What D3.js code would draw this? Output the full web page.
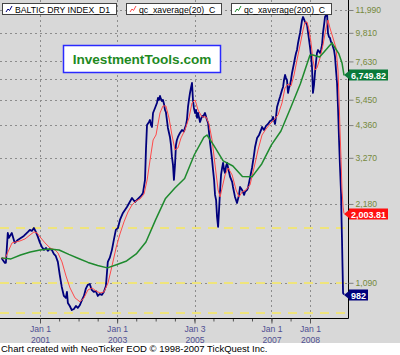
<!DOCTYPE html>
<html>
<head>
<meta charset="utf-8">
<script src="https://cdn.jsdelivr.net/npm/d3@7"></script>
<style>
body { margin: 0; background: #fff; }
svg text { font-family: "Liberation Sans", Arial, sans-serif; }
</style>
</head>
<body>
<svg width="400" height="355"></svg>
<script>
var bdiSeries = [
["2000-01-03",1356],["2000-01-15",1333],["2000-02-04",1298],["2000-02-13",1300],["2000-03-02",1689],
["2000-03-11",1617],["2000-04-09",1689],["2000-05-07",1548],["2000-06-05",1589],["2000-07-03",1617],
["2000-08-01",1646],["2000-09-09",1705],["2000-09-27",1735],["2000-10-16",1720],["2000-11-04",1765],
["2000-11-23",1705],["2000-12-12",1632],["2001-01-01",1548],["2001-01-19",1494],["2001-02-08",1456],
["2001-02-27",1481],["2001-03-16",1443],["2001-04-04",1468],["2001-04-23",1456],["2001-05-12",1405],
["2001-05-30",1380],["2001-06-19",1310],["2001-07-07",1168],["2001-07-26",1051],["2001-08-15",971],
["2001-09-03",954],["2001-09-13",1006],["2001-09-22",913],["2001-10-10",889],["2001-10-29",858],
["2001-11-18",866],["2001-12-07",889],["2001-12-25",874],["2002-01-14",897],["2002-02-03",938],
["2002-02-21",971],["2002-03-10",1033],["2002-03-29",1070],["2002-04-17",1079],["2002-05-06",1024],
["2002-05-25",1006],["2002-06-13",1015],["2002-07-02",971],["2002-07-21",989],["2002-08-09",980],
["2002-08-28",1006],["2002-09-17",1060],["2002-10-05",1310],["2002-10-24",1360],["2002-11-13",1456],
["2002-12-01",1589],["2002-12-20",1735],["2003-01-09",1765],["2003-01-28",1894],["2003-02-25",2014],
["2003-04-04",2123],["2003-05-22",2298],["2003-06-19",2218],["2003-07-17",2278],["2003-08-15",2339],
["2003-09-03",2401],["2003-09-22",2692],["2003-10-01",3504],["2003-10-11",4364],["2003-10-30",4481],
["2003-11-08",4561],["2003-11-18",4364],["2003-11-27",4289],["2003-12-07",4850],["2003-12-26",5068],
["2004-01-13",5296],["2004-01-23",5533],["2004-02-01",5436],["2004-02-11",5632],["2004-02-20",5485],
["2004-03-01",5390],["2004-03-10",5436],["2004-03-20",5250],["2004-03-29",4980],["2004-04-07",4890],
["2004-04-26",4251],["2004-05-15",3928],["2004-05-25",3661],["2004-06-03",3295],["2004-06-13",3072],
["2004-06-22",2692],["2004-07-02",3072],["2004-07-11",3661],["2004-07-20",3826],["2004-07-30",3928],
["2004-08-18",4068],["2004-09-06",4177],["2004-09-25",4120],["2004-10-04",4251],["2004-10-14",4364],
["2004-10-23",4561],["2004-11-02",5113],["2004-11-11",5436],["2004-11-21",5782],["2004-11-30",6041],
["2004-12-10",6313],["2004-12-19",5436],["2004-12-28",5068],["2005-01-08",4850],["2005-01-17",4980],
["2005-01-27",4642],["2005-02-05",4850],["2005-02-24",4481],["2005-03-15",4724],["2005-03-24",4686],
["2005-04-12",4850],["2005-05-01",4561],["2005-05-11",4442],["2005-05-30",3727],["2005-06-18",3210],
["2005-06-27",2939],["2005-07-07",2692],["2005-07-16",2360],["2005-07-26",2258],["2005-08-04",1945],
["2005-08-14",1781],["2005-08-23",2070],["2005-09-02",2465],["2005-09-11",2813],["2005-09-21",2991],
["2005-09-30",3126],["2005-10-10",2939],["2005-10-19",2863],["2005-10-29",3044],["2005-11-07",3126],
["2005-11-17",2991],["2005-12-06",2764],["2005-12-25",2645],["2006-01-02",2531],["2006-01-21",2319],
["2006-02-09",2199],["2006-02-28",2360],["2006-03-10",2531],["2006-03-29",2465],["2006-04-17",2360],
["2006-04-26",2422],["2006-05-15",2465],["2006-05-24",2510],["2006-06-12",2740],["2006-07-01",2991],
["2006-07-20",3353],["2006-07-30",3597],["2006-08-18",3893],["2006-09-06",3998],["2006-09-25",4177],
["2006-10-04",4289],["2006-10-23",4177],["2006-11-11",4327],["2006-11-30",4403],["2006-12-19",4521],
["2007-01-06",4561],["2007-01-16",4686],["2007-02-04",4403],["2007-02-13",4686],["2007-02-23",5113],
["2007-03-14",5436],["2007-03-23",5582],["2007-04-11",5936],["2007-04-21",6095],["2007-04-30",6481],
["2007-05-10",6772],["2007-05-19",6590],["2007-05-28",6481],["2007-06-07",5782],["2007-06-16",6041],
["2007-06-26",6203],["2007-07-05",6481],["2007-07-15",6893],["2007-08-03",7526],["2007-08-12",7864],
["2007-08-22",8217],["2007-08-31",8436],["2007-09-10",8972],["2007-09-19",9375],["2007-09-29",9796],
["2007-10-08",10326],["2007-10-18",10982],["2007-10-27",11274],["2007-11-06",11042],["2007-11-15",10791],
["2007-11-25",10700],["2007-12-04",10510],["2007-12-14",9796],["2007-12-23",9212],["2008-01-01",8663],
["2008-01-10",8074],["2008-01-20",7266],["2008-01-29",5782],["2008-02-08",6203],["2008-02-17",6893],
["2008-02-27",7592],["2008-03-07",8217],["2008-03-17",8436],["2008-03-26",8320],["2008-04-05",8217],
["2008-04-14",8436],["2008-04-24",8815],["2008-05-03",9796],["2008-05-13",10510],["2008-05-22",11274],
["2008-06-01",11475],["2008-06-10",11886],["2008-06-15",10510],["2008-06-19",9796],["2008-06-29",9458],
["2008-07-08",9375],["2008-07-18",9051],["2008-07-27",8972],["2008-08-06",8663],["2008-08-15",8436],
["2008-08-25",7934],["2008-09-03",7076],["2008-09-13",6313],["2008-09-22",5113],["2008-10-02",3826],
["2008-10-11",3018],["2008-10-21",2401],["2008-10-25",1945],["2008-10-30",1589],["2008-11-04",1253],
["2008-11-09",997],["2008-11-18",982]
];

var ema20Series = [
["2000-01-03",1357],["2000-02-04",1345],["2000-03-04",1430],["2000-04-11",1548],["2000-05-19",1561],
["2000-06-26",1575],["2000-08-12",1603],["2000-09-29",1660],["2000-11-05",1705],["2000-12-04",1690],
["2001-01-01",1632],["2001-02-17",1548],["2001-04-06",1481],["2001-05-23",1455],["2001-06-20",1417],
["2001-07-28",1310],["2001-09-04",1158],["2001-10-12",1042],["2001-11-28",955],["2002-01-15",922],
["2002-02-21",955],["2002-03-31",1024],["2002-05-08",1042],["2002-06-15",1015],["2002-07-23",997],
["2002-08-30",1006],["2002-10-07",1089],["2002-11-14",1265],["2002-12-22",1481],["2003-01-28",1675],
["2003-03-07",1861],["2003-04-14",2032],["2003-05-22",2161],["2003-06-29",2238],["2003-08-06",2278],
["2003-09-13",2380],["2003-10-12",2692],["2003-11-09",3209],["2003-12-08",3826],["2004-01-04",3997],
["2004-02-11",4850],["2004-03-10",5158],["2004-04-07",5158],["2004-05-06",4642],["2004-06-03",3997],
["2004-07-02",3504],["2004-07-30",3566],["2004-08-28",3894],["2004-10-04",4177],["2004-11-11",4642],
["2004-12-10",5296],["2005-01-08",5437],["2005-02-05",4980],["2005-03-15",4683],["2005-04-22",4683],
["2005-05-20",4403],["2005-06-18",3826],["2005-07-16",3071],["2005-08-14",2465],["2005-09-02",2318],
["2005-09-21",2509],["2005-10-19",2813],["2005-11-17",2991],["2005-12-25",2813],["2006-01-31",2465],
["2006-02-28",2318],["2006-03-29",2422],["2006-05-05",2465],["2006-06-12",2576],["2006-07-20",2991],
["2006-08-27",3504],["2006-10-04",3997],["2006-11-11",4214],["2006-12-19",4403],["2007-01-25",4561],
["2007-03-04",4766],["2007-04-11",5296],["2007-05-09",6041],["2007-06-07",6257],["2007-07-05",6148],
["2007-08-03",6773],["2007-08-31",7727],["2007-09-29",8815],["2007-10-27",10057],["2007-11-15",10790],
["2007-12-04",10790],["2007-12-23",10057],["2008-01-10",9051],["2008-01-29",7727],["2008-02-17",7077],
["2008-03-07",7202],["2008-04-05",7864],["2008-05-03",8815],["2008-06-01",10235],["2008-06-19",10981],
["2008-07-08",10235],["2008-08-06",9374],["2008-09-03",8585],["2008-09-22",7077],["2008-10-02",5437],
["2008-10-11",4177],["2008-10-21",3209],["2008-10-30",2465],["2008-11-09",2123],["2008-11-18",2003.81]
];

var ema200Series = [
["2000-01-03",1357],["2000-04-01",1345],["2000-07-01",1392],["2000-10-01",1430],["2001-01-01",1455],
["2001-04-01",1468],["2001-07-01",1455],["2001-10-01",1399],["2002-01-01",1350],["2002-04-01",1304],
["2002-07-01",1270],["2002-10-01",1243],["2003-01-01",1281],["2003-04-01",1321],["2003-07-01",1405],
["2003-10-01",1561],["2004-01-01",1900],["2004-04-01",2280],["2004-07-01",2509],["2004-10-01",2725],
["2005-01-01",3359],["2005-04-01",3911],["2005-05-01",3997],["2005-07-01",3662],["2005-10-01",3181],
["2006-01-01",3044],["2006-04-01",2776],["2006-07-01",2766],["2006-10-01",3098],["2007-01-01",3662],
["2007-04-01",4140],["2007-07-01",5068],["2007-10-01",6257],["2008-01-01",8073],["2008-01-29",8073],
["2008-04-01",7933],["2008-05-13",8289],["2008-07-01",8738],["2008-07-27",8971],["2008-10-01",8150],
["2008-10-30",7526],["2008-11-18",6749.82]
];

var yGridValues = [1090, 2180, 3270, 4360, 5450, 6540, 7630, 9810, 11990];
var yLabelValues = [1090, 2180, 3270, 4360, 5450, 7630, 9810, 11990];
var xTickDates = ["2001-01-01", "2003-01-01", "2005-01-03", "2007-01-01", "2008-01-01"];
var xTickDays = ["Jan 1", "Jan 1", "Jan 3", "Jan 1", "Jan 1"];
var xTickYears = ["2001", "2003", "2005", "2007", "2008"];
var guideLevels = [1765, 1089, 837];
var legendLabels = ["BALTIC DRY INDEX_D1", "qc_xaverage(20)_C", "qc_xaverage(200)_C"];

var seriesColors = ["#00007c", "#ff4a4a", "#1e8a2e"];
var markerColors = ["#00007c", "#ff1010", "#0b7a3a"];

var width = 400, height = 355;
var plotW = 348, plotH = 318;
var parseDate = d3.timeParse("%Y-%m-%d");

function toPoints(s) {
    return s.map(function(d){ return {date: parseDate(d[0]), value: d[1]}; });
}

var series = [toPoints(bdiSeries), toPoints(ema20Series), toPoints(ema200Series)];

var x = d3.scaleTime()
    .domain([parseDate("2001-01-01"), parseDate("2008-01-01")])
    .range([40, 310]);

var y = d3.scaleLog()
    .domain([800, 13090])
    .range([plotH, 0]);

var svg = d3.select("svg");

svg.append("rect")
    .attr("width", width)
    .attr("height", height)
    .attr("fill", "#d8d8d8");

svg.append("rect")
    .attr("y", 343)
    .attr("width", width)
    .attr("height", height - 343)
    .attr("fill", "#ffffff");

svg.append("clipPath")
    .attr("id", "plotClip")
    .append("rect")
        .attr("width", plotW)
        .attr("height", plotH);

var grid = svg.append("g").attr("class", "grid")
    .attr("shape-rendering", "crispEdges");

grid.selectAll(".hgrid")
    .data(yGridValues)
    .enter()
    .append("line")
        .attr("class", "hgrid")
        .attr("x1", 0)
        .attr("x2", plotW)
        .attr("y1", function(d){ return Math.round(y(d)) + 0.5; })
        .attr("y2", function(d){ return Math.round(y(d)) + 0.5; })
        .attr("stroke", "#8c8c8c")
        .attr("stroke-dasharray", "2,3");

grid.selectAll(".vgrid")
    .data(xTickDates)
    .enter()
    .append("line")
        .attr("class", "vgrid")
        .attr("x1", function(d){ return Math.round(x(parseDate(d))) + 0.5; })
        .attr("x2", function(d){ return Math.round(x(parseDate(d))) + 0.5; })
        .attr("y1", 0)
        .attr("y2", plotH)
        .attr("stroke", "#8c8c8c")
        .attr("stroke-dasharray", "2,3");

grid.selectAll(".guide")
    .data(guideLevels)
    .enter()
    .append("line")
        .attr("class", "guide")
        .attr("x1", 0)
        .attr("x2", plotW)
        .attr("y1", function(d){ return Math.round(y(d)); })
        .attr("y2", function(d){ return Math.round(y(d)); })
        .attr("stroke", "#efe47c")
        .attr("stroke-width", 2)
        .attr("stroke-dasharray", "9,7");

var line = d3.line()
    .x(function(d){ return x(d.date); })
    .y(function(d){ return y(d.value); });

var widths = [1.8, 1, 1.5];

svg.append("g")
    .attr("clip-path", "url(#plotClip)")
    .selectAll("path")
    .data(series)
    .enter()
    .append("path")
        .attr("d", line)
        .attr("fill", "none")
        .attr("stroke", function(d, i){ return seriesColors[i]; })
        .attr("stroke-width", function(d, i){ return widths[i]; })
        .attr("stroke-linejoin", "round");

// right value axis
var yAxis = svg.append("g")
    .attr("transform", "translate(" + (plotW + 0.5) + ",0)")
    .call(d3.axisRight(y).tickValues(yLabelValues).tickSize(5).tickSizeOuter(0).tickFormat(d3.format(",")));

yAxis.select(".domain").attr("stroke", "#000").attr("d", "M0,0V" + (plotH + 0.5));
yAxis.selectAll(".tick line").attr("stroke", "#808080");
yAxis.selectAll(".tick text")
    .attr("x", 7)
    .attr("fill", "#75893c")
    .style("font-size", "8.6px")
    .style("font-family", "'Liberation Sans', Arial, sans-serif");

// bottom time axis
svg.append("g")
    .attr("transform", "translate(0," + (plotH + 0.5) + ")")
    .call(d3.axisBottom(x).ticks(d3.timeMonth.every(6)).tickSize(3).tickSizeOuter(0).tickFormat(""))
    .call(function(g){ g.select(".domain").remove(); })
    .selectAll(".tick line").attr("stroke", "#555");

var xAxis = svg.append("g")
    .attr("transform", "translate(0," + (plotH + 0.5) + ")")
    .call(d3.axisBottom(x).tickValues(xTickDates.map(parseDate)).tickSize(5).tickSizeOuter(0).tickFormat(""));

xAxis.select(".domain").attr("stroke", "#000").attr("d", "M0,0H" + (plotW + 0.5));
xAxis.selectAll(".tick line").attr("stroke", "#555");

xAxis.selectAll(".tick")
    .append("text")
        .attr("y", 13)
        .attr("fill", "#4f4f92")
        .attr("text-anchor", "middle")
        .style("font-size", "8.6px")
        .text(function(d, i){ return xTickDays[i]; });

xAxis.selectAll(".tick")
    .append("text")
        .attr("y", 24)
        .attr("fill", "#4f4f92")
        .attr("text-anchor", "middle")
        .style("font-size", "8.6px")
        .text(function(d, i){ return xTickYears[i]; });

// legend boxes
var legendX = 2;
legendLabels.forEach(function(label, i){
    var g = svg.append("g").attr("transform", "translate(" + legendX + ",3)");
    var box = g.append("rect")
        .attr("x", 0.5)
        .attr("y", 0.5)
        .attr("height", 11)
        .attr("fill", "#fff")
        .attr("stroke", "#444");
    g.append("path")
        .attr("d", "M4,9L6,6L7.5,7.5L10,3")
        .attr("fill", "none")
        .attr("stroke", seriesColors[i])
        .attr("stroke-width", 1);
    var t = g.append("text")
        .attr("x", 13)
        .attr("y", 9.5)
        .attr("fill", "#000")
        .style("font-size", "8.7px")
        .text(label);
    var w = Math.round(t.node().getComputedTextLength()) + 19;
    box.attr("width", w);
    legendX += w + 10;
});

// logo box
svg.append("rect")
    .attr("x", 63.5)
    .attr("y", 45.5)
    .attr("width", 157)
    .attr("height", 27)
    .attr("fill", "#fff")
    .attr("stroke", "#2a2aff")
    .attr("stroke-width", 1.5);

svg.append("text")
    .attr("x", 142)
    .attr("y", 64)
    .attr("text-anchor", "middle")
    .attr("fill", "#1f8a1f")
    .style("font-size", "13.6px")
    .style("font-weight", "bold")
    .text("InvestmentTools.com");

// last value markers
series.forEach(function(s, i){
    var last = s[s.length - 1];
    var yy = Math.round(y(last.value));
    var label = Number.isInteger(last.value) ? d3.format(",")(last.value) : d3.format(",.2f")(last.value);
    var g = svg.append("g").attr("transform", "translate(" + (plotW + 1) + "," + yy + ")");
    g.append("path")
        .attr("d", "M-5,0L0,-4L0,4Z")
        .attr("fill", markerColors[i]);
    var box = g.append("rect")
        .attr("x", 0)
        .attr("y", -5.5)
        .attr("height", 11)
        .attr("fill", markerColors[i]);
    var t = g.append("text")
        .attr("x", 2)
        .attr("y", 3.5)
        .attr("fill", "#fff")
        .style("font-size", "9px")
        .style("font-weight", "bold")
        .text(label);
    box.attr("width", Math.round(t.node().getComputedTextLength()) + 4);
});

svg.append("text")
    .attr("x", 1)
    .attr("y", 352)
    .attr("fill", "#000")
    .style("font-size", "9.5px")
    .text("Chart created with NeoTicker EOD \u00a9 1998-2007 TickQuest Inc.");
</script>
</body>
</html>
